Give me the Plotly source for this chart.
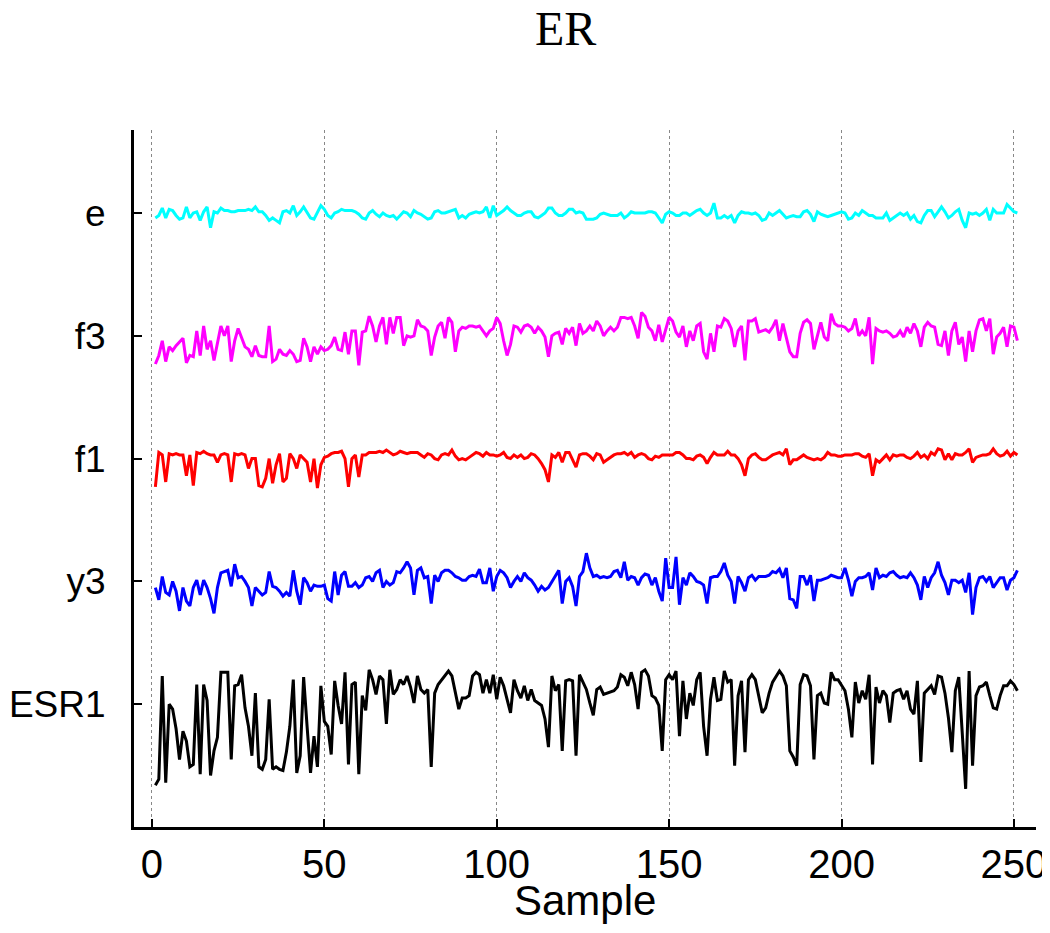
import plotly.graph_objects as go

samples = list(range(1, 252))

track_labels = ["ESR1", "y3", "f1", "f3", "e"]
track_pos = [100, 200, 300, 400, 500]
track_colors = ["#000000", "#0000FF", "#FF0000", "#FF00FF", "#00FFFF"]

# offsets of each trace from its own track level
e_vals = [
    -4, -2, 4, -4, 3, 2, -2, -5, -4, 5,
    -4, 0, 1, -6, 1, 5, -12, 1, 0, 4,
    2, 2, 1, 1, 2, 2, 2, 3, 2, 5,
    1, 1, -2, -6, -4, -6, -8, 1, 2, 0,
    6, -2, 1, 5, 0, -4, -5, 1, 6, 3,
    -2, -4, 0, 1, 3, 2, 2, 2, 1, -1,
    -4, -5, 0, 2, -1, -3, 0, -2, -3, -2,
    -5, -2, 1, 0, -3, 2, 0, -1, -3, -5,
    -4, 1, 2, 0, 0, 1, 2, 3, -4, -2,
    -4, -1, 0, 1, 0, 1, 5, -4, 6, -2,
    0, 2, 5, 2, 0, -2, -2, 0, 1, 1,
    -3, -4, -2, 0, 4, 4, 0, -2, -2, 0,
    3, 3, 0, 1, 0, -5, -5, -5, -4, -1,
    0, -1, -2, -2, -2, 0, -4, -2, 1, 0,
    0, 0, 0, 1, 1, 0, -4, -8, -1, 1,
    0, -2, -2, 0, 0, -2, 0, 2, 3, 0,
    -2, 0, 8, -4, -4, -2, -4, -2, -8, -2,
    1, 0, 0, -1, 0, -2, -6, -5, 0, -2,
    0, 2, -1, -4, -3, -2, -3, -3, 1, 2,
    -1, -7, 1, -1, -2, -3, -2, -1, 0, 1,
    0, -5, -4, 0, -2, 2, 0, -2, -2, -4,
    -4, -4, 0, -6, -4, -2, 0, -2, 0, -5,
    -2, -7, -8, -2, 2, 2, -3, 1, 5, 1,
    -4, -2, 1, 3, -6, -12, 0, -1, 0, -2,
    0, 3, -6, 3, 0, 0, 0, 7, 4, 1, 0,
]

f3_vals = [
    -23, -16, -4, -21, -9, -12, -8, -5, -2, -22,
    -16, -17, 4, -16, 8, -11, -4, -20, -5, 8,
    0, 8, -21, -4, 6, -2, -9, -11, -17, -8,
    -16, -17, -17, 8, -21, -19, -11, -15, -16, -12,
    -15, -21, -20, -2, -9, -21, -9, -15, -9, -12,
    -11, -8, -1, -11, -12, 3, -15, 4, 4, -24,
    3, 4, 16, 8, -5, 8, 15, -7, 15, 2,
    15, 15, -8, 0, -1, 0, 13, 8, 7, 4,
    -16, -1, 8, 11, -2, 15, 11, -13, 4, 7,
    6, 8, 8, 7, 8, 4, 0, 4, 6, 15,
    10, -4, -16, -7, 8, 7, 3, 8, 9, 7,
    2, 7, 4, -1, -17, 0, 2, 3, -7, 6,
    2, 7, -8, 10, 2, 4, 8, 4, 12, 8,
    0, 4, 7, 4, 7, 15, 15, 14, 15, 8,
    -2, 19, 16, 7, 4, -4, 9, -5, 4, 15,
    12, 3, -1, 8, -9, 4, -4, 8, 10, -13,
    -19, 2, -13, 8, 7, 14, 12, 6, -9, 4,
    8, -20, 12, 12, 14, 3, 4, 5, 3, 7,
    13, -4, 10, -1, -13, -17, -17, 2, 11, 13,
    10, -11, 0, 11, -1, -4, 18, 10, 8, 8,
    7, 4, 6, 14, 0, 4, 0, 15, -23, 6,
    4, 3, 4, 2, -1, 0, 4, -1, 7, 2,
    10, 4, -9, 7, 11, 8, 7, -7, -8, 4,
    -16, 4, 11, -7, -1, -21, 4, -13, 4, 13,
    14, 4, 14, -15, -1, 2, 7, -9, 8, 7, -4,
]

f1_vals = [
    -23, 5, 3, -19, 4, 3, 4, 3, 3, -14,
    3, -22, 5, 4, 6, 4, 3, 3, -3, 3,
    4, 3, -19, 4, 3, 4, 3, -8, 0, 0,
    -22, -23, -16, 0, -20, -5, 4, -19, -16, 4,
    0, -8, 3, 0, -3, -19, 0, -24, -5, 1,
    2, 4, 5, 5, 6, 0, -23, 0, 3, -15,
    3, 3, 5, 5, 5, 6, 5, 7, 5, 3,
    4, 6, 5, 4, 5, 5, 5, 3, 1, 4,
    3, 0, -1, 3, 4, 3, 7, 2, -1, 0,
    -1, 1, 3, 5, 4, 2, 5, 3, 3, 2,
    3, 5, 1, 0, 3, 1, 3, 0, 1, 4,
    3, 0, -4, -9, -19, 3, 1, 5, -3, 5,
    5, -1, -7, 3, 4, 4, 2, -1, 4, 3,
    -3, -1, 1, 3, 4, 4, 5, 3, 5, 1,
    3, 4, 3, 0, -1, 2, 1, 3, 3, 3,
    3, 5, 5, 3, 0, 0, -1, 2, 3, 1,
    -4, 1, 5, 3, 3, 3, 6, 3, 3, 0,
    -5, -14, 0, 3, 4, 1, -1, -1, 1, 3,
    4, 5, 3, 8, -5, -1, -1, 1, 3, 1,
    0, -1, 0, -1, 1, 5, 3, 3, 2, 2,
    3, 3, 3, 4, 4, 2, 1, 4, -14, -1,
    -3, 0, 3, -1, 3, 2, 3, 3, 1, 0,
    2, 5, 1, 3, 0, 5, 3, 8, 7, -1,
    4, -1, 4, 3, 3, 5, 8, -3, 1, 2,
    3, 3, 4, 8, 4, 2, 3, 6, 2, 5, 3,
]

y3_vals = [
    -5, -15, 4, -9, -11, 0, -8, -24, -5, -16,
    -20, -5, 1, -11, 1, -5, -14, -26, -5, 7,
    8, 9, -4, 14, 3, 4, 0, -5, -20, -5,
    -8, -11, -9, 8, -4, -5, -8, -12, -9, -12,
    9, -8, -19, 3, -1, -8, -3, -4, -4, -3,
    -14, -16, 8, -11, 5, 8, -4, -4, -1, -5,
    -3, 3, 4, 0, 7, 9, -5, 0, -3, -1,
    8, 7, 11, 16, 11, -11, 9, 11, 3, 4,
    -18, 5, 0, 7, 9, 9, 7, 4, 3, 1,
    1, 4, 5, 4, 10, -1, -1, 11, -8, 4,
    9, 7, 3, -5, 0, 4, 0, 7, 3, 1,
    -3, -8, -4, -7, -5, 0, 4, 9, -18, 0,
    3, -4, -20, 4, 8, 23, 11, 4, 5, 3,
    4, 3, 4, 8, 9, 3, 16, 1, 4, 3,
    -3, 3, 6, 5, -3, 3, -8, -16, 19, -5,
    -5, 20, -19, 3, -3, 7, 4, 0, -1, -3,
    -18, 3, 4, 4, 8, 15, 5, 0, -18, 4,
    -1, -8, 3, 5, 1, 4, 4, 4, 5, 8,
    7, 10, 3, 11, -14, -15, -22, 4, 4, -3,
    5, -16, 1, 1, 2, 3, 5, 4, 3, 3,
    11, 1, -12, 0, 3, 3, 4, 7, -7, 11,
    3, 5, 4, 7, 8, 5, 3, 4, 3, 7,
    3, -3, -15, 4, -5, 3, 7, 16, 5, -1,
    -11, 1, 1, -1, 1, -9, 7, -27, -5, 3,
    4, 0, 4, -5, -1, 3, 3, -7, 1, 3, 9,
]

esr1_vals = [
    -66, -61, 23, -64, 0, -4, -20, -45, -22, -30,
    -51, -49, 16, -57, 16, 3, -58, -38, -27, 26,
    26, 26, -45, 15, 16, 24, -3, -18, -42, 9,
    -51, -53, -45, 4, -53, -51, -53, -54, -39, -18,
    20, -56, -42, 22, -18, -56, -26, -51, 15, -14,
    -18, -41, 19, -1, -16, 26, -49, 16, 18, -57,
    7, -5, 28, 20, 8, 23, 20, -16, 28, 8,
    12, 20, 16, 23, 14, 1, 23, 12, 9, 12,
    -51, 9, 16, 20, 24, 27, 23, 9, -4, 5,
    5, 7, 23, 26, 24, 9, 20, 9, 24, 4,
    22, 15, 4, -7, 20, 11, 5, 15, 3, 12,
    3, 1, -1, -12, -35, 23, 11, 16, -38, 19,
    20, 19, -42, 24, 18, 12, 1, -9, 12, 14,
    8, 9, 10, 11, 14, 24, 22, 15, 26, 16,
    -4, 26, 28, 23, 7, 5, -1, -38, 20, 24,
    20, 27, -26, 19, -12, 9, -1, 20, 26, -18,
    -42, 4, 22, 3, 4, 27, 18, 20, -50, 7,
    19, -39, 20, 24, 20, 5, -7, -3, 9, 18,
    23, 27, 23, 15, -38, -43, -50, 16, 24, 23,
    15, -45, 7, 9, 1, 0, 26, 20, 20, 16,
    11, -4, -27, 18, 1, 11, 4, 24, -49, 14,
    1, 11, 7, -15, 9, 11, 12, 4, 11, -4,
    -8, 19, -47, 9, 12, 15, 8, 23, 22, 9,
    -11, -39, 11, 22, -23, -69, 27, -50, 7, 14,
    15, 18, 7, -3, -4, 7, 15, 15, 19, 16, 11,
]

x_ticks = [0, 50, 100, 150, 200, 250]

series = [esr1_vals, y3_vals, f1_vals, f3_vals, e_vals]

fig = go.Figure()
for name, pos, vals, color in zip(track_labels, track_pos, series, track_colors):
    fig.add_trace(go.Scatter(
        x=samples,
        y=[pos + v for v in vals],
        mode="lines",
        name=name,
        line=dict(color=color, width=3),
        hoverinfo="skip",
    ))

# the page adds an 8px body margin, so the figure is 8px smaller
fig.update_layout(
    width=1042,
    height=925,
    margin=dict(l=126, r=14, t=122, b=106),
    paper_bgcolor="white",
    plot_bgcolor="white",
    showlegend=False,
    font=dict(family="Liberation Sans, Arial, sans-serif", color="black"),
)

# title and x label as annotations so they sit exactly where the reference has them
fig.add_annotation(
    text="ER",
    xref="paper", yref="paper",
    x=0.478, y=1.145,
    xanchor="center", yanchor="middle",
    showarrow=False,
    font=dict(family="Liberation Serif, Times New Roman, serif", size=48, color="black"),
)

fig.add_annotation(
    text="Sample",
    xref="paper", yref="paper",
    x=0.5, y=-0.105,
    xanchor="center", yanchor="middle",
    showarrow=False,
    font=dict(size=42, color="black"),
)

fig.update_xaxes(
    range=[-5.2, 256.4],
    tickvals=x_ticks,
    showgrid=True,
    gridcolor="#888888",
    griddash="dot",
    gridwidth=1,
    zeroline=False,
    showline=True,
    linecolor="black",
    linewidth=3,
    ticks="inside",
    ticklen=8,
    tickwidth=2,
    tickcolor="black",
    tickfont=dict(size=40),
    automargin=False,
)

fig.update_yaxes(
    range=[0, 567.6],
    tickvals=track_pos,
    ticktext=track_labels,
    showgrid=False,
    zeroline=False,
    showline=True,
    linecolor="black",
    linewidth=3,
    ticks="inside",
    ticklen=8,
    tickwidth=2,
    tickcolor="black",
    tickfont=dict(size=37),
    ticklabelstandoff=18,
    automargin=False,
)

fig.write_html("out.html")
